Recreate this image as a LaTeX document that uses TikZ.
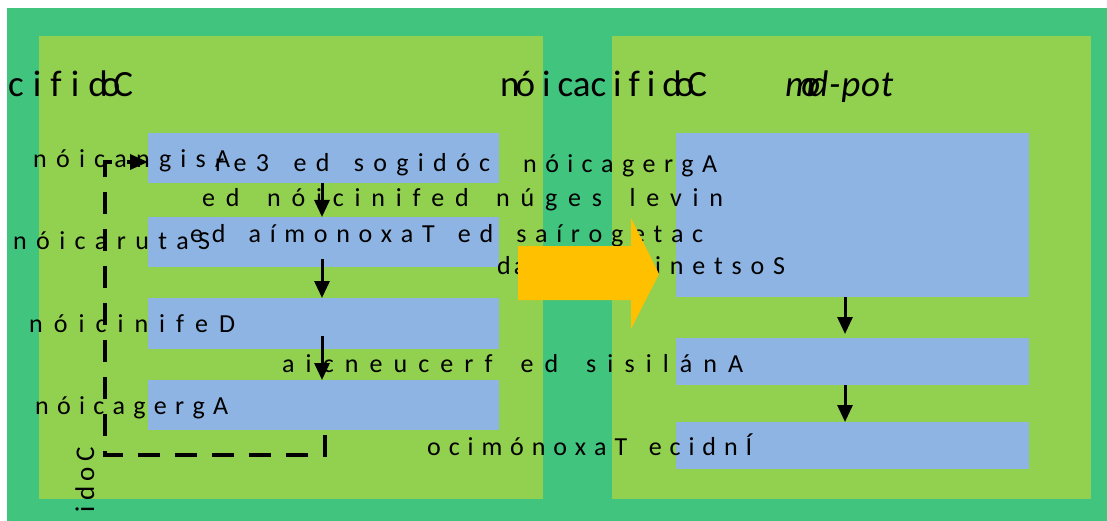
\documentclass[tikz,border=0pt]{standalone}
\usepackage{fontspec}
\setmainfont{Carlito}
\usetikzlibrary{arrows.meta}
\definecolor{dkgreen}{HTML}{41C47D}
\definecolor{ltgreen}{HTML}{92D050}
\definecolor{boxblue}{HTML}{8EB4E3}
\definecolor{orng}{HTML}{FFC000}
\makeatletter
\def\spr@loop#1{\ifx#1\relax\else#1\hfill\expandafter\spr@loop\fi}
\newcommand\spr[2]{\makebox[#1][s]{\spr@loop#2\relax\unskip}}
\makeatother
\tikzset{
  panel/.style={fill=ltgreen, draw=none, inner sep=0pt, outer sep=0pt, anchor=north west},
  bbox/.style={fill=boxblue, draw=none, inner sep=0pt, outer sep=0pt, anchor=north west},
  txt/.style={inner sep=0pt, anchor=base west, font=\fontsize{26}{30}\selectfont},
  ttl/.style={inner sep=0pt, anchor=base west, font=\fontsize{37}{41}\selectfont},
  arr/.style={line width=3pt, -{Triangle[length=17pt,width=15pt]}},
  dsh/.style={line width=3.2pt, dash pattern=on 22pt off 15pt, -{Triangle[length=18pt,width=15pt]}},
}
\begin{document}
\begin{tikzpicture}[x=1pt,y=-1pt]
\useasboundingbox (0,0) rectangle (1107,521);
\fill[white] (0,0) rectangle (1107,521);
\fill[dkgreen] (7,8) rectangle (1107,521);
% panels
\node[panel, minimum width=504pt, minimum height=463pt] (pL) at (39,36) {};
\node[panel, minimum width=479pt, minimum height=463pt] (pR) at (612,36) {};
% blue boxes
\node[bbox, minimum width=351pt, minimum height=50pt] (b1) at (148,133) {};
\node[bbox, minimum width=351pt, minimum height=50pt] (b2) at (148,217) {};
\node[bbox, minimum width=351pt, minimum height=51pt] (b3) at (148,298) {};
\node[bbox, minimum width=351pt, minimum height=50pt] (b4) at (148,380) {};
\node[bbox, minimum width=353pt, minimum height=164pt] (r1) at (676,133) {};
\node[bbox, minimum width=353pt, minimum height=47pt] (r2) at (676,338) {};
\node[bbox, minimum width=353pt, minimum height=47pt] (r3) at (676,422) {};
% titles
\node[ttl] (t1) at (8,97) {\makebox[125pt][s]{c\hfill i\hfill f\hfill i\hfill d\kern-7pt o\kern-7pt C}};
\node[ttl] (t2) at (500,97) {\makebox[207pt][s]{n\kern-4pt ó\hfill i\hfill cac\hfill i\hfill f\hfill i\hfill d\kern-7pt o\kern-7pt C}};
\node[ttl, font=\fontsize{37}{41}\selectfont\itshape] (t3) at (785,97) {\makebox[108pt][s]{m\kern-13pt o\kern-11pt d\hfill -\hfill p\hfill o\hfill t}};
% texts
\node[txt] (t4) at (33,168) {\spr{197pt}{nóicangisA}};
\node[txt] (t5) at (215,172) {\spr{275pt}{re3~ed~sogidóc}};
\node[txt] (t6) at (523,173) {\spr{194pt}{nóicagergA}};
\node[txt] (t7) at (202,207) {\spr{521pt}{ed~nóicinifed~núges~levin}};
\node[txt] (t8) at (13,250) {\spr{197pt}{nóicarutaS}};
\node[txt] (t9) at (190,242) {\spr{513pt}{ed~aímonoxaT~ed~saírogetac}};
\node[txt] (t10) at (497,274) {\makebox[288pt][s]{d\hspace{3pt}a\hfill d\hfill i\hfill l\hfill i\hfill b\hfill\spr{130pt}{inetsoS}}};
\node[txt] (t11) at (29,332) {\spr{206pt}{nóicinifeD}};
\node[txt] (t12) at (282,372) {\spr{461pt}{aicneucerf~ed~sisilánA}};
\node[txt] (t13) at (35,414) {\spr{193pt}{nóicagergA}};
\node[txt] (t14) at (427,455) {\spr{325pt}{ocimónoxaT~ecidnÍ}};
\node[txt, font=\fontsize{27}{31}\selectfont, rotate=90] (t15) at (94,513) {\spr{66pt}{idoC}};
% orange block arrow
\fill[orng] (518,246) -- (631,246) -- (631,218) -- (659,274) -- (631,329) -- (631,300) -- (518,300) -- cycle;
% arrows
\coordinate (ax) at (322,0);
\coordinate (rx) at (845,0);
\coordinate (a2s) at ([yshift=8pt]b2.south);
\coordinate (a3s) at ([yshift=13pt]b3.south);
\coordinate (r2n) at ([yshift=4pt]r2.north);
\draw[arr] (b1.south -| ax) -- (b2.north -| ax);
\draw[arr] (a2s -| ax) -- (b3.north -| ax);
\draw[arr] (a3s -| ax) -- (b4.north -| ax);
\draw[arr] (r1.south -| rx) -- (r2n -| rx);
\draw[arr] (r2.south -| rx) -- (r3.north -| rx);
% dashed loop
\coordinate (ds) at (325,435);
\coordinate (dc1) at (325,455);
\coordinate (dc2) at (105,455);
\coordinate (dc3) at (105,162);
\coordinate (de) at (b1.west |- 0,162);
\draw[dsh] (ds) -- (dc1) -- (dc2) -- (dc3) -- (de);
\end{tikzpicture}
\end{document}
